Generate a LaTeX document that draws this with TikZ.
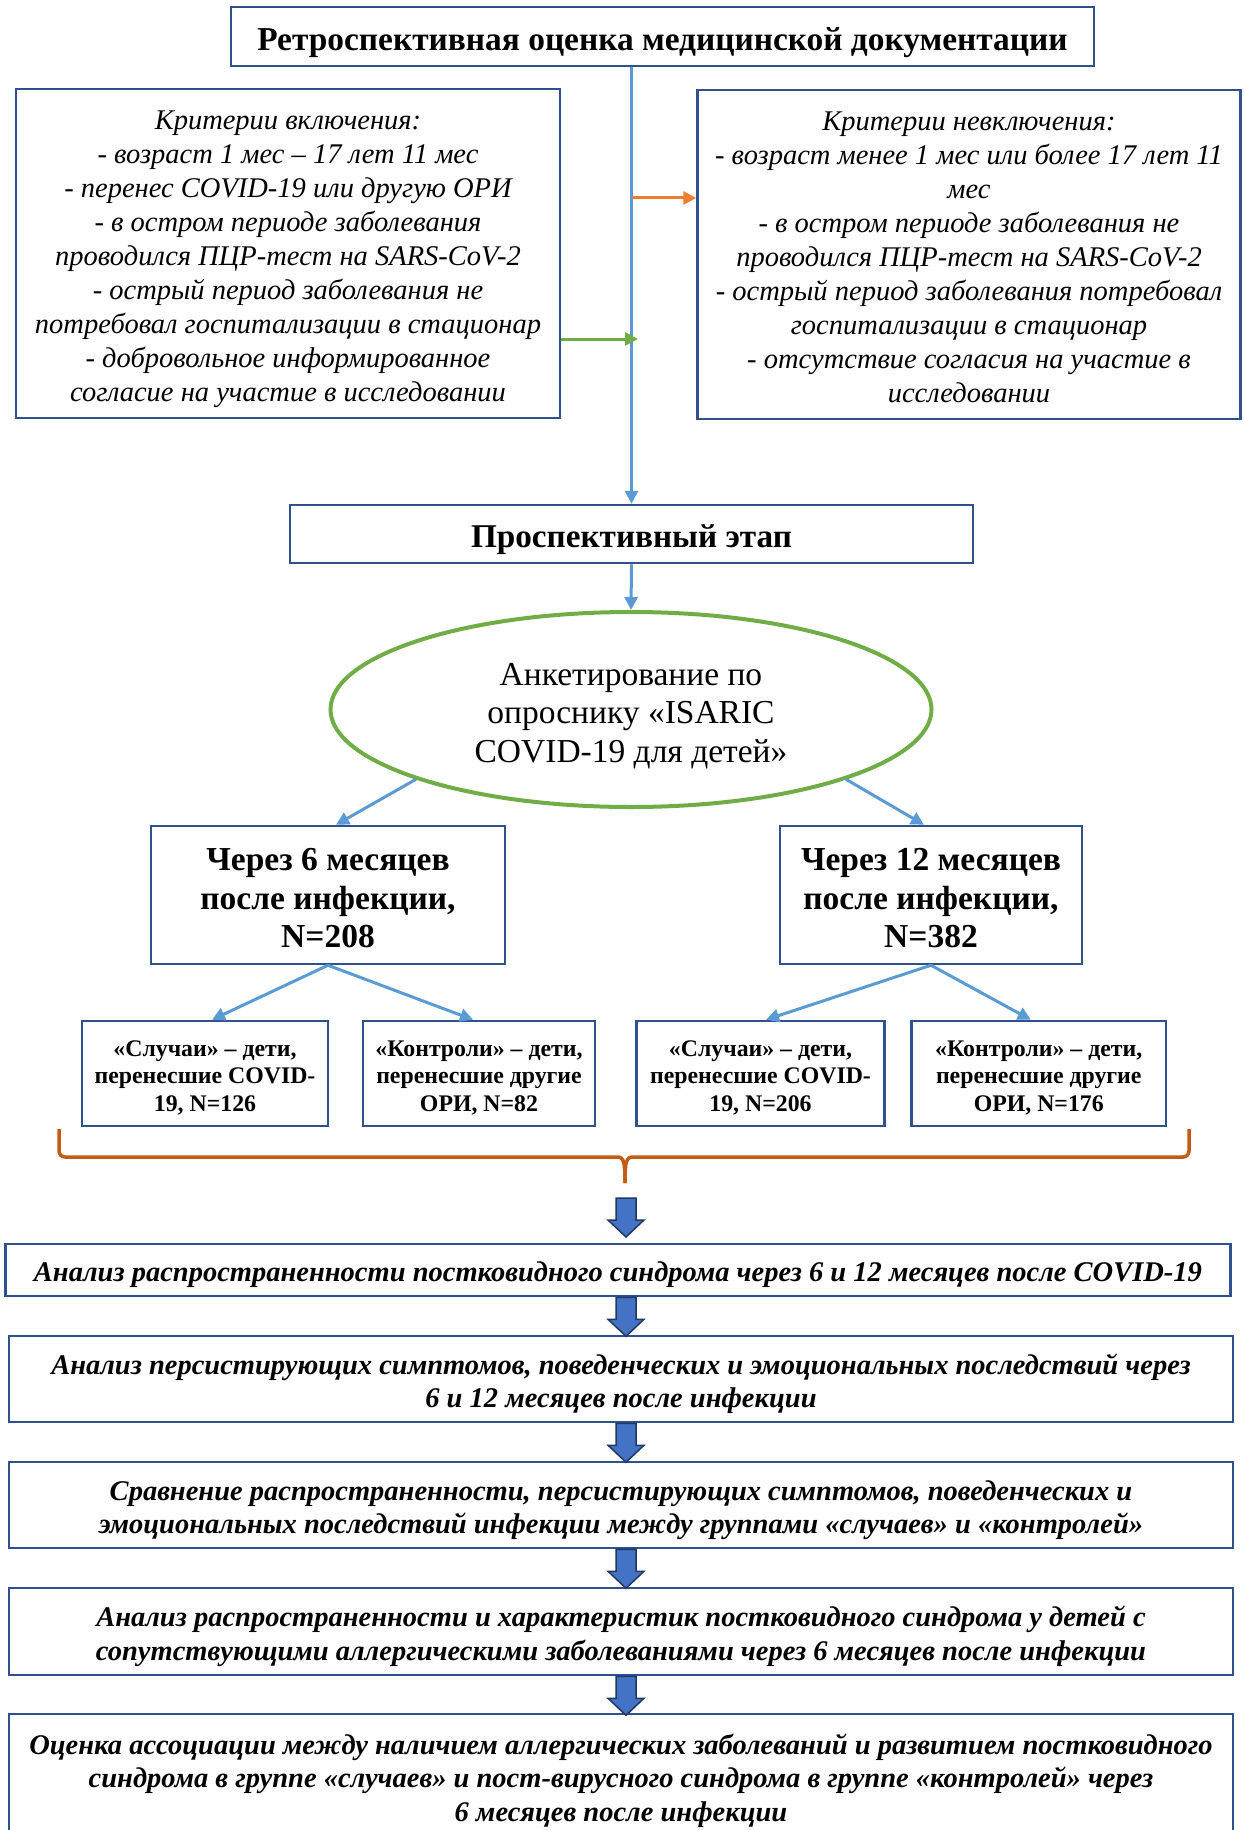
\documentclass[tikz,border=0pt]{standalone}
\usepackage{fontspec}
\setmainfont{Liberation Serif}
\usetikzlibrary{arrows.meta,shapes.geometric,calc}
\definecolor{boxc}{HTML}{2F528F}
\definecolor{conc}{HTML}{5B9BD5}
\definecolor{orc}{HTML}{ED7D31}
\definecolor{grc}{HTML}{70AD47}
\definecolor{brc}{HTML}{C55A11}
\definecolor{arrf}{HTML}{4472C4}
\definecolor{arrd}{HTML}{203864}
\newcommand{\fs}{\rule{0pt}{1.07em}}
\tikzset{
  wordtext/.style={execute at begin node={\rule{0pt}{1.05em}}, execute at end node={\rule[-0.216em]{0pt}{0pt}}},
  bx/.style={draw=boxc, line width=2.5pt, rectangle, inner sep=0pt, align=center, text=black, wordtext},
  conn/.style={draw=conc, line width=3pt, -{Triangle[length=13pt,width=13pt]}},
  critf/.style={font=\fontsize{28.5}{34}\selectfont\itshape},
  anf/.style={font=\fontsize{28.5}{33.5}\selectfont\bfseries\itshape},
  smf/.style={font=\fontsize{23.8}{27.5}\selectfont\bfseries},
  midf/.style={font=\fontsize{33.5}{38.5}\selectfont\bfseries},
  barr/.style={fill=arrf, draw=arrd, line width=1.5pt, line join=miter},
}
\newcommand{\blockarr}[1]{\draw[barr] (#1) ++(-10,0) -- ++(20,0) -- ++(0,22) -- ++(8,0) -- ++(-18,17) -- ++(-18,-17) -- ++(8,0) -- cycle;}
\begin{document}
\begin{tikzpicture}[x=1pt,y=-1pt]
\useasboundingbox (0,0) rectangle (1243,1830);
\fill[white] (0,0) rectangle (1243,1830);
% top
\node[bx, minimum width=863pt, minimum height=59pt, font=\fontsize{33.4}{38}\selectfont\bfseries] (T) at (662.5,36.5) {Ретроспективная оценка медицинской документации};
\node[bx, critf, minimum width=544pt, minimum height=329pt] (Inc) at (288,253.5) {\fs Критерии включения:\\
- возраст 1 мес -- 17 лет 11 мес\\
- перенес COVID-19 или другую ОРИ\\
- в остром периоде заболевания\\
проводился ПЦР-тест на SARS-CoV-2\\
- острый период заболевания не\\
потребовал госпитализации в стационар\\
- добровольное информированное\\
согласие на участие в исследовании};
\node[bx, critf, minimum width=543pt, minimum height=329pt] (Exc) at (969,254.5) {\fs Критерии невключения:\\
- возраст менее 1 мес или более 17 лет 11\\
мес\\
- в остром периоде заболевания не\\
проводился ПЦР-тест на SARS-CoV-2\\
- острый период заболевания потребовал\\
госпитализации в стационар\\
- отсутствие согласия на участие в\\
исследовании};
\node[bx, minimum width=683pt, minimum height=58pt, font=\fontsize{33.2}{38}\selectfont\bfseries] (P) at (631.5,534) {Проспективный этап};
\node[ellipse, draw=grc, line width=4pt, minimum width=601pt, minimum height=195pt, inner sep=0pt, align=center, wordtext, font=\fontsize{33.5}{38.5}\selectfont] (E) at (631,709.5) {\fs Анкетирование по\\опроснику «ISARIC\\COVID-19 для детей»};
\node[bx, midf, minimum width=354pt, minimum height=138pt] (B6) at (328,895) {\fs Через 6 месяцев\\после инфекции,\\N=208};
\node[bx, midf, minimum width=302pt, minimum height=138pt] (B12) at (931,895) {\fs Через 12 месяцев\\после инфекции,\\N=382};
\node[bx, smf, minimum width=246pt, minimum height=105pt] (S1) at (205,1073.5) {\fs «Случаи» -- дети,\\перенесшие COVID-\\19, N=126};
\node[bx, smf, minimum width=232pt, minimum height=105pt] (S2) at (479,1073.5) {\fs «Контроли» -- дети,\\перенесшие другие\\ОРИ, N=82};
\node[bx, smf, minimum width=248pt, minimum height=105pt] (S3) at (760.5,1073.5) {\fs «Случаи» -- дети,\\перенесшие COVID-\\19, N=206};
\node[bx, smf, minimum width=254.5pt, minimum height=105pt] (S4) at (1038.75,1073.5) {\fs «Контроли» -- дети,\\перенесшие другие\\ОРИ, N=176};
% analysis boxes
\node[bx, anf, minimum width=1225pt, minimum height=52pt] (A1) at (618,1270) {Анализ распространенности постковидного синдрома через 6 и 12 месяцев после COVID-19};
\node[bx, anf, minimum width=1224pt, minimum height=86pt] (A2) at (621,1379) {\fs Анализ персистирующих симптомов, поведенческих и эмоциональных последствий через\\6 и 12 месяцев после инфекции};
\node[bx, anf, minimum width=1224pt, minimum height=86pt] (A3) at (621,1505) {\fs Сравнение распространенности, персистирующих симптомов, поведенческих и\\эмоциональных последствий инфекции между группами «случаев» и «контролей»};
\node[bx, anf, minimum width=1224pt, minimum height=87pt] (A4) at (621,1631.5) {\fs Анализ распространенности и характеристик постковидного синдрома у детей с\\сопутствующими аллергическими заболеваниями через 6 месяцев после инфекции};
\node[bx, anf, minimum width=1224pt, minimum height=123pt] (A5) at (621,1775.5) {\fs Оценка ассоциации между наличием аллергических заболеваний и развитием постковидного\\синдрома в группе «случаев» и пост-вирусного синдрома в группе «контролей» через\\6 месяцев после инфекции};
% connectors
\draw[conn] (T.south -| P.north) -- (P.north);
\coordinate (oS) at (631.5,198);
\draw[draw=orc, line width=3pt, -{Triangle[length=13pt,width=13pt]}] (oS) -- (oS -| Exc.west);
\coordinate (gE) at (638,339);
\draw[draw=grc, line width=3pt, -{Triangle[length=13pt,width=13pt]}] (gE -| Inc.east) -- (gE);
\draw[conn] (P.south) -- (E.north);
\draw[conn] (E.198) -- ($(B6.north)+(8,0)$);
\draw[conn] (E.-18) -- ($(B12.north)+(-7,0)$);
\draw[conn] (B6.south) -- ($(S1.north)+(7,0)$);
\draw[conn] (B6.south) -- ($(S2.north)+(-6,0)$);
\draw[conn] (B12.south) -- ($(S3.north)+(5.5,0)$);
\draw[conn] (B12.south) -- ($(S4.north)+(-8,0)$);
% brace
\draw[brc, line width=3.5pt, rounded corners=6pt] (59,1129) -- (59,1157) -- (617,1157);
\draw[brc, line width=3.5pt] (617,1157) .. controls (624,1157) and (625,1162) .. (625,1183);
\draw[brc, line width=3.5pt] (625,1183) .. controls (625,1162) and (626,1157) .. (633,1157);
\draw[brc, line width=3.5pt, rounded corners=6pt] (633,1157) -- (1189,1157) -- (1189,1129);
% block arrows
\coordinate (ax) at (626,1198);
\blockarr{ax}
\blockarr{A1.south -| ax}
\blockarr{A2.south -| ax}
\blockarr{A3.south -| ax}
\blockarr{A4.south -| ax}
\end{tikzpicture}
\end{document}
